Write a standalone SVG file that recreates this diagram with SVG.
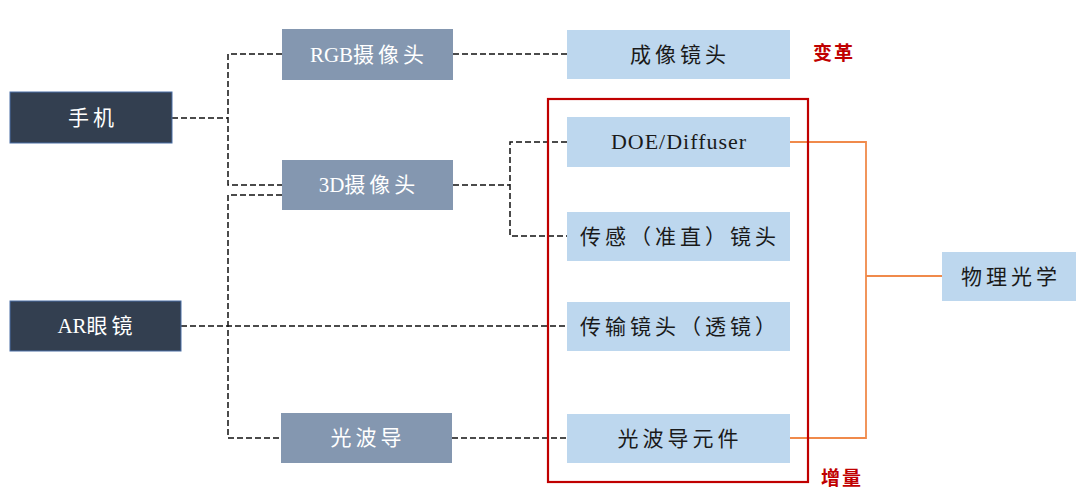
<svg xmlns="http://www.w3.org/2000/svg" width="1080" height="503" viewBox="0 0 1080 503">
<style>
.dark{fill:#333F50;stroke:#4A6FA5;stroke-width:1}
.mid{fill:#8497B0}
.light{fill:#BDD7EE}
text{font-family:"Liberation Serif","Noto Sans CJK SC",serif;font-size:21px;text-anchor:middle;letter-spacing:4px}
.lat{letter-spacing:0px}
.w{fill:#FFFFFF}
.k{fill:#1A1A1A}
.red{fill:#C00000;font-weight:bold}
.dash{fill:none;stroke:#111;stroke-width:1.5;stroke-dasharray:6 3}
.orange{fill:none;stroke:#F08A4B;stroke-width:1.8}
</style>
<rect width="1080" height="503" fill="#FFFFFF"/>
<g id="connectors">
<polyline class="dash" points="172,118 228,118"/>
<polyline class="dash" points="282,54 228,54 228,185 282,185"/>
<polyline class="dash" points="282,195 228,195 228,438 281,438"/>
<polyline class="dash" points="181,326 567,326"/>
<polyline class="dash" points="453,54 567,54"/>
<polyline class="dash" points="453,185 510,185"/>
<polyline class="dash" points="567,142 510,142 510,236 567,236"/>
<polyline class="dash" points="452,438 567,438"/>
<polyline class="orange" points="790,142 866,142 866,438 790,438"/>
<polyline class="orange" points="866,276 942,276"/>
</g>
<g id="node-shouji"><rect class="dark" x="10" y="92" width="162" height="51"/><text class="w" x="93" y="125">手机</text></g>
<g id="node-ar"><rect class="dark" x="10" y="301" width="171" height="50"/><text class="w" x="97" y="333"><tspan class="lat">AR</tspan>眼镜</text></g>
<g id="node-rgb"><rect class="mid" x="282" y="29" width="171" height="51"/><text class="w" x="369" y="62"><tspan class="lat">RGB</tspan>摄像头</text></g>
<g id="node-3d"><rect class="mid" x="282" y="160" width="171" height="50"/><text class="w" x="369" y="192"><tspan class="lat">3D</tspan>摄像头</text></g>
<g id="node-guangbodao"><rect class="mid" x="281" y="413" width="171" height="50"/><text class="w" x="368" y="445">光波导</text></g>
<g id="node-chengxiang"><rect class="light" x="567" y="30" width="223" height="49"/><text class="k" x="680" y="62">成像镜头</text></g>
<g id="node-doe"><rect class="light" x="567" y="117" width="223" height="50"/><text class="k" x="679" y="149" style="letter-spacing:1px;font-size:22px">DOE/Diffuser</text></g>
<g id="node-chuangan"><rect class="light" x="567" y="212" width="223" height="49"/><text class="k" x="680" y="244">传感（准直）镜头</text></g>
<g id="node-chuanshu"><rect class="light" x="567" y="302" width="223" height="49"/><text class="k" x="680" y="334">传输镜头（透镜）</text></g>
<g id="node-yuanjian"><rect class="light" x="567" y="414" width="223" height="49"/><text class="k" x="680" y="446">光波导元件</text></g>
<g id="node-wuli"><rect class="light" x="942" y="252" width="134" height="49"/><text class="k" x="1011" y="284">物理光学</text></g>
<g id="group-zengliang"><rect x="548" y="99" width="260" height="383" fill="none" stroke="#C00000" stroke-width="2.2"/><text class="red" x="842" y="485" style="font-size:19px;letter-spacing:2px">增量</text></g>
<g id="label-biange"><text class="red" x="834" y="60" style="font-size:19px;letter-spacing:2px">变革</text></g>
</svg>
